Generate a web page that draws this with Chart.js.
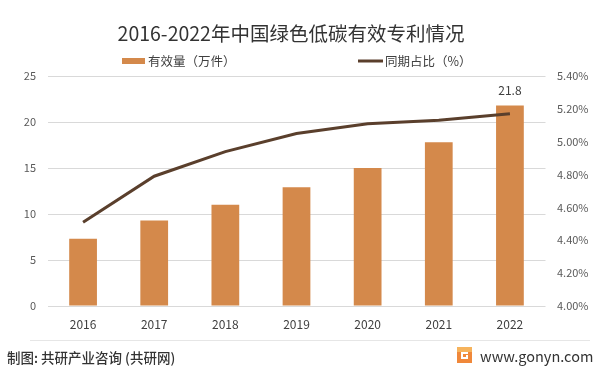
<!DOCTYPE html>
<html>
<head>
<meta charset="utf-8">
<script src="https://cdn.jsdelivr.net/npm/chart.js@4"></script>
<style>
    html, body { margin: 0; padding: 0; background: #ffffff; }
    #chart { display: block; }
</style>
</head>
<body>
<canvas id="chart" width="600" height="374"></canvas>
<script>
// Chart data
const years = ['2016', '2017', '2018', '2019', '2020', '2021', '2022'];
const patentCount = [7.3, 9.3, 11.0, 12.9, 15.0, 17.8, 21.8];
const patentShare = [4.51, 4.79, 4.94, 5.05, 5.11, 5.13, 5.17];
const barLabel = '有效量（万件）';
const lineLabel = '同期占比（%）';
const titleText = '2016-2022年中国绿色低碳有效专利情况';
const sourceText = '制图: 共研产业咨询 (共研网)';
const siteText = 'www.gonyn.com';

const BAR_COLOR = '#D4894B';
const LINE_COLOR = '#5A3F2C';
const FONT = '"Noto Sans CJK SC", "Noto Sans", sans-serif';

// Title, legend, data label and footer drawn on the canvas
const decorPlugin = {
    id: 'decor',
    afterDraw(chart) {
        const ctx = chart.ctx;
        ctx.save();

        // Title
        ctx.fillStyle = '#333333';
        ctx.font = '19.5px ' + FONT;
        ctx.textAlign = 'center';
        ctx.textBaseline = 'middle';
        ctx.fillText(titleText, 291, 34);

        // Legend
        ctx.font = '12.5px ' + FONT;
        ctx.textAlign = 'left';
        ctx.fillStyle = BAR_COLOR;
        ctx.fillRect(122, 58, 23, 6);
        ctx.fillStyle = '#404040';
        ctx.fillText(barLabel, 148, 61);
        ctx.strokeStyle = LINE_COLOR;
        ctx.lineWidth = 3;
        ctx.beginPath();
        ctx.moveTo(358, 61);
        ctx.lineTo(383, 61);
        ctx.stroke();
        ctx.fillText(lineLabel, 385, 61);

        // Data label on the last bar
        const meta = chart.getDatasetMeta(1);
        const last = meta.data[meta.data.length - 1];
        ctx.font = '12px ' + FONT;
        ctx.textAlign = 'center';
        ctx.fillStyle = '#404040';
        ctx.fillText(patentCount[patentCount.length - 1].toFixed(1), last.x, last.y - 15);

        // Footer separator
        ctx.strokeStyle = '#e6e6e6';
        ctx.lineWidth = 1;
        ctx.beginPath();
        ctx.moveTo(30, 340.5);
        ctx.lineTo(590, 340.5);
        ctx.stroke();

        // Footer source
        ctx.fillStyle = '#333333';
        ctx.font = '500 13.5px ' + FONT;
        ctx.textAlign = 'left';
        ctx.fillText(sourceText, 7, 358);

        // Site icon
        ctx.fillStyle = '#F0883A';
        ctx.fillRect(457, 347, 15, 16);
        ctx.fillStyle = '#F6B35C';
        ctx.fillRect(457, 347, 15, 5);
        ctx.fillStyle = '#ffffff';
        ctx.fillRect(461, 352, 7, 2);
        ctx.fillRect(461, 352, 2, 7);
        ctx.fillRect(461, 357, 7, 2);
        ctx.fillRect(466, 355, 2, 4);

        ctx.fillStyle = '#333333';
        ctx.font = '14.5px ' + FONT;
        ctx.fillText(siteText, 480, 356);

        ctx.restore();
    }
};

const ctx = document.getElementById('chart').getContext('2d');
const chart = new Chart(ctx, {
    type: 'bar',
    data: {
        labels: years,
        datasets: [
            {
                type: 'line',
                label: lineLabel,
                data: patentShare,
                yAxisID: 'y1',
                borderColor: LINE_COLOR,
                borderWidth: 3,
                pointRadius: 0,
                tension: 0,
                fill: false,
                order: 0
            },
            {
                type: 'bar',
                label: barLabel,
                data: patentCount,
                yAxisID: 'y',
                backgroundColor: BAR_COLOR,
                barPercentage: 0.39,
                categoryPercentage: 1,
                order: 1
            }
        ]
    },
    options: {
        responsive: false,
        animation: false,
        layout: {
            padding: { top: 76, left: 0, right: 0, bottom: 0 }
        },
        plugins: {
            legend: { display: false },
            title: { display: false },
            tooltip: { enabled: false }
        },
        scales: {
            x: {
                grid: { display: false, drawTicks: false },
                border: { display: false },
                ticks: {
                    padding: 11,
                    color: '#404040',
                    font: { family: FONT, size: 12 }
                },
                afterFit(scale) { scale.height = 68; }
            },
            y: {
                position: 'left',
                min: 0,
                max: 25,
                ticks: {
                    stepSize: 5,
                    padding: 11.5,
                    color: '#595959',
                    font: { family: FONT, size: 11 }
                },
                grid: { color: '#d9d9d9', drawTicks: false },
                border: { display: false },
                afterFit(scale) { scale.width = 47.5; }
            },
            y1: {
                position: 'right',
                min: 4.0,
                max: 5.4,
                ticks: {
                    stepSize: 0.2,
                    padding: 11.5,
                    color: '#595959',
                    font: { family: FONT, size: 11 },
                    callback: value => value.toFixed(2) + '%'
                },
                grid: { display: false, drawTicks: false },
                border: { display: false },
                afterFit(scale) { scale.width = 54.5; }
            }
        }
    },
    plugins: [decorPlugin]
});
</script>
</body>
</html>
